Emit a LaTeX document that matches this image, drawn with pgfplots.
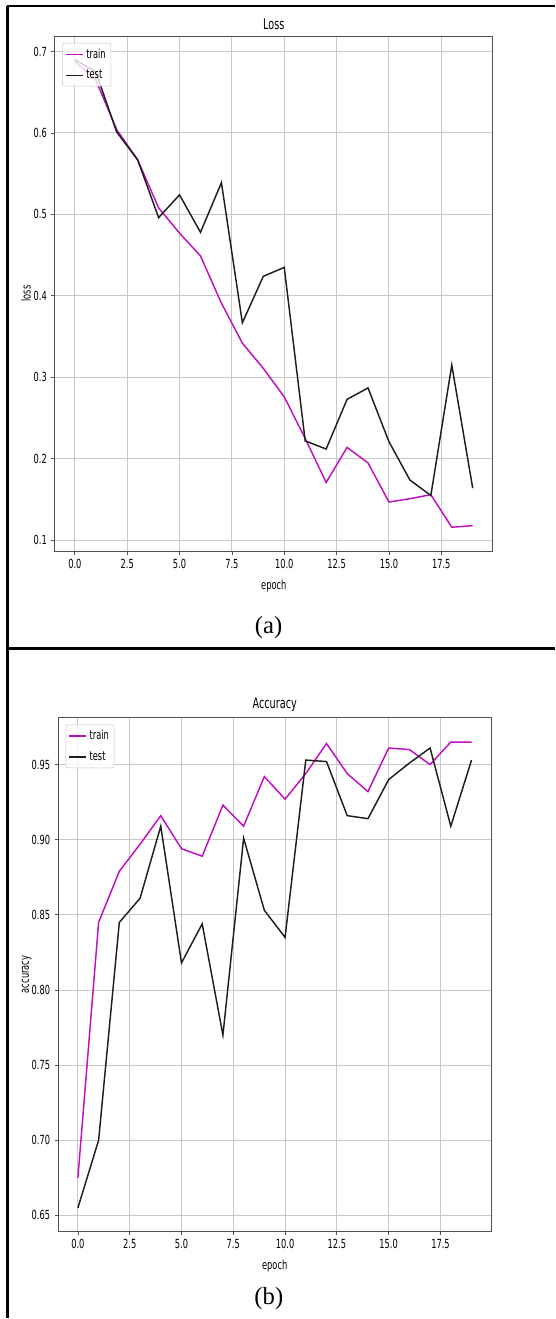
\documentclass[border=0pt]{standalone}
\usepackage{pgfplots}
\pgfplotsset{compat=1.18}
\usepackage{fontspec}
\setmainfont{Liberation Serif}
\newfontfamily\mpl[FakeStretch=0.66]{DejaVu Sans}
\definecolor{mag}{HTML}{BF10BF}
\definecolor{blk}{HTML}{1E1E1E}
\definecolor{gridc}{HTML}{C8C8C8}
\definecolor{spine}{HTML}{505050}

\pgfplotstableread{
e train test
0 0.688 0.690
1 0.665 0.675
2 0.604 0.601
3 0.567 0.567
4 0.508 0.496
5 0.477 0.524
6 0.449 0.478
7 0.391 0.539
8 0.342 0.367
9 0.311 0.424
10 0.276 0.435
11 0.225 0.222
12 0.171 0.212
13 0.214 0.273
14 0.195 0.287
15 0.147 0.221
16 0.151 0.174
17 0.156 0.155
18 0.116 0.315
19 0.118 0.164
}\losstab

\pgfplotstableread{
e train test
0 0.675 0.655
1 0.845 0.700
2 0.879 0.845
3 0.897 0.861
4 0.916 0.909
5 0.894 0.818
6 0.889 0.844
7 0.923 0.770
8 0.909 0.901
9 0.942 0.853
10 0.927 0.835
11 0.944 0.953
12 0.964 0.952
13 0.944 0.916
14 0.932 0.914
15 0.961 0.940
16 0.960 0.951
17 0.950 0.961
18 0.965 0.909
19 0.965 0.953
}\acctab

\pgfplotsset{mplstyle/.style={
  scale only axis,
  font=\mpl\fontsize{9.4}{11}\selectfont,
  /pgf/number format/assume math mode=true,
  xmin=-0.95, xmax=19.95,
  xtick={0,2.5,5,7.5,10,12.5,15,17.5},
  xticklabel style={/pgf/number format/.cd,fixed,fixed zerofill,precision=1},
  grid=major,
  major grid style={gridc, line width=0.7pt},
  axis line style={spine, line width=0.7pt},
  tick style={spine, line width=0.6pt},
  tick align=outside, major tick length=2.6pt,
  tick pos=left,
  title style={font=\mpl\fontsize{11}{13}\selectfont, at={(0.5,1)}, anchor=center},
  xlabel style={at={(0.5,0)}, anchor=center, yshift=-26pt},
  legend style={at={(0,1)}, anchor=north west, xshift=5.5pt, yshift=-5.2pt,
    draw=gridc, fill=white, fill opacity=0.8, text opacity=1, rounded corners=1.5pt,
    font=\mpl\fontsize{9.4}{11}\selectfont, inner sep=2pt, row sep=3.5pt},
  legend cell align=left,
  legend image code/.code={\draw[#1, line width=1.1pt] (0pt,0pt) -- (12.8pt,0pt);},
  every axis plot/.append style={line width=1.1pt},
}}

\begin{document}
\begin{tikzpicture}
\path (0pt,0pt) rectangle (416.25pt,-989.25pt);
% frame lines
\draw[line width=1.4pt] (5.6pt,-4.2pt) -- (416.25pt,-4.2pt);
\draw[line width=1.6pt] (5.6pt,-4.2pt) -- (5.6pt,-989.25pt);
\draw[line width=1.7pt] (5.6pt,-486.8pt) -- (416.25pt,-486.8pt);

\begin{axis}[mplstyle,
  at={(41.25pt,-413.8pt)}, anchor=south west,
  width=328.5pt, height=386.8pt,
  ymin=0.0865, ymax=0.719,
  ytick={0.1,0.2,0.3,0.4,0.5,0.6,0.7},
  yticklabel style={/pgf/number format/.cd,fixed,fixed zerofill,precision=1},
  title={Loss}, title style={yshift=3pt},
  xlabel={epoch},
  ylabel={loss}, ylabel style={at={(axis description cs:-0.066,0.5)}, anchor=center},
]
\addplot[mag] table[x=e,y=train] {\losstab};
\addlegendentry{train}
\addplot[blk] table[x=e,y=test] {\losstab};
\addlegendentry{test}
\end{axis}
\node[font=\fontsize{18.5}{20}\selectfont] at (201.6pt,-471pt) {(a)};

\begin{axis}[mplstyle,
  at={(43.7pt,-924.2pt)}, anchor=south west,
  width=325pt, height=385.5pt,
  ymin=0.6394, ymax=0.9812,
  ytick={0.65,0.70,0.75,0.80,0.85,0.90,0.95},
  yticklabel style={/pgf/number format/.cd,fixed,fixed zerofill,precision=2},
  title={Accuracy}, title style={yshift=3.5pt},
  xlabel={epoch},
  ylabel={accuracy}, ylabel style={at={(axis description cs:-0.073,0.5)}, anchor=center},
]
\addplot[mag] table[x=e,y=train] {\acctab};
\addlegendentry{train}
\addplot[blk] table[x=e,y=test] {\acctab};
\addlegendentry{test}
\end{axis}
\node[font=\fontsize{18.5}{20}\selectfont] at (201.8pt,-975pt) {(b)};
\end{tikzpicture}
\end{document}
